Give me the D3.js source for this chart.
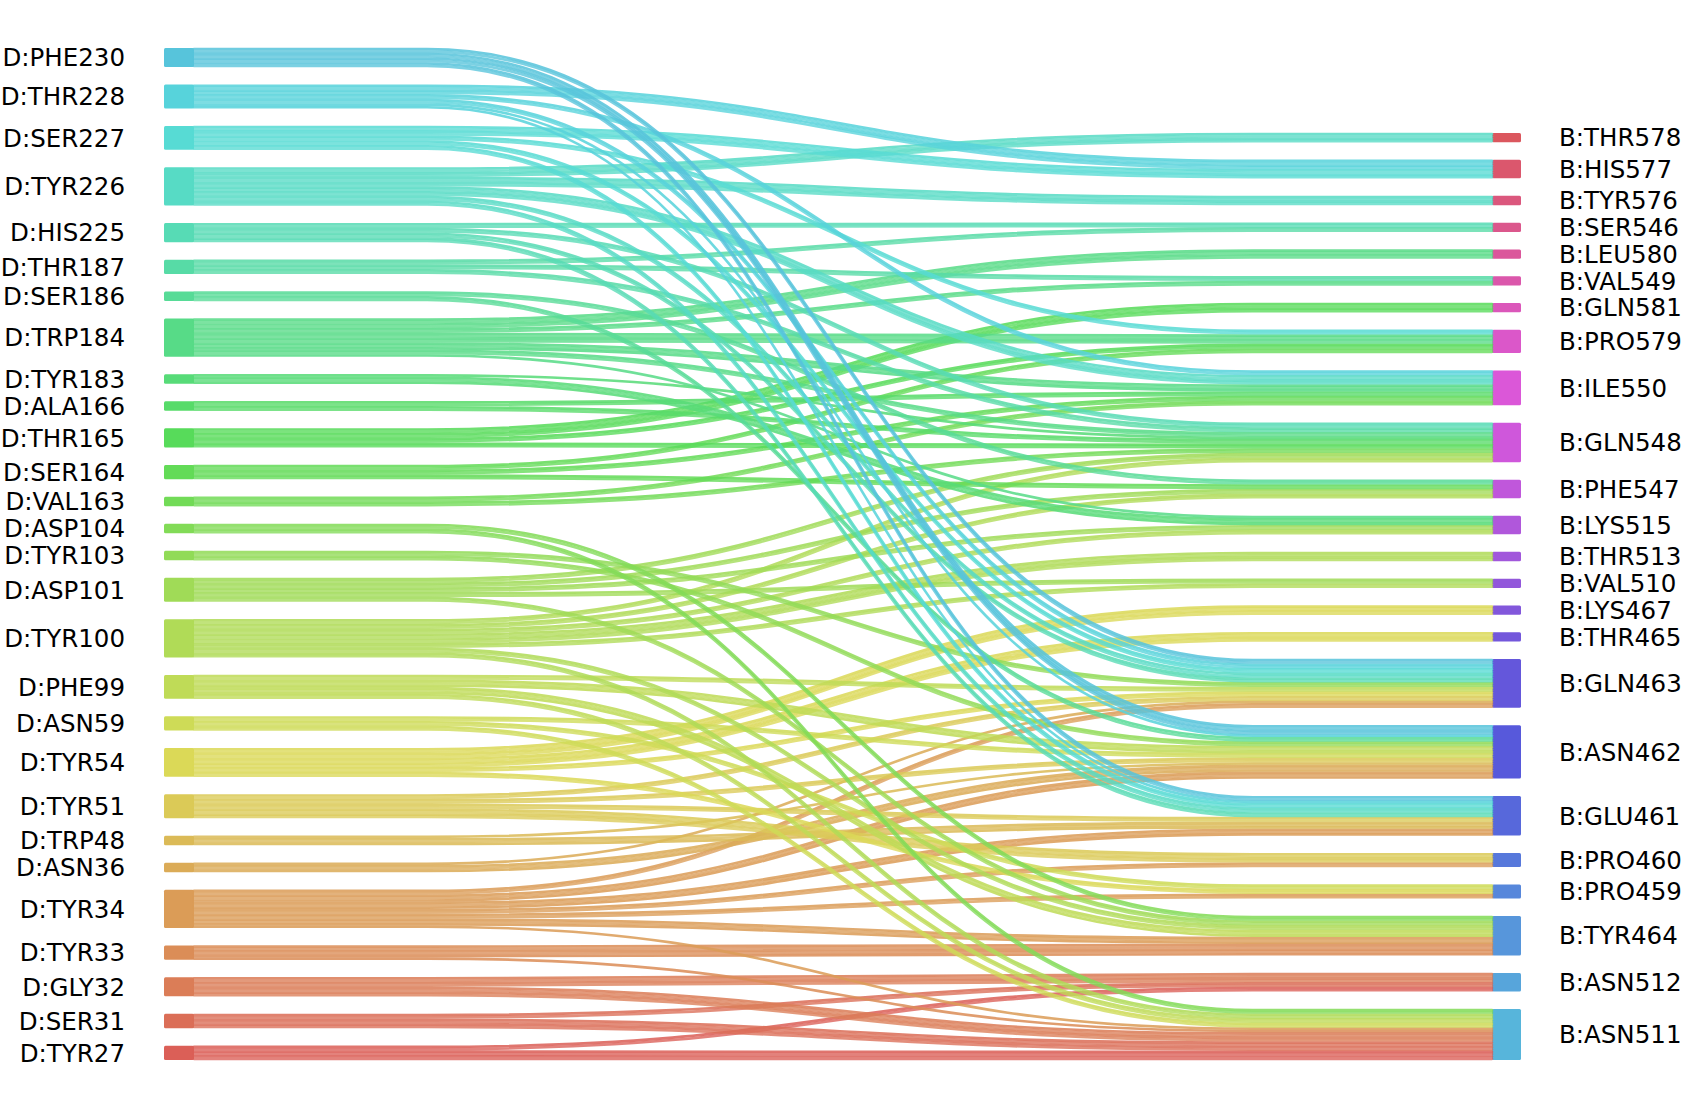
<!DOCTYPE html>
<html><head><meta charset="utf-8">
<script src="https://cdn.jsdelivr.net/npm/d3@7"></script>
<style>html,body{margin:0;padding:0;background:#fff;}svg{display:block;}</style>
</head><body>
<script>
// ---- data ----
const leftNodes = ["D:PHE230","D:THR228","D:SER227","D:TYR226","D:HIS225","D:THR187","D:SER186","D:TRP184","D:TYR183","D:ALA166","D:THR165","D:SER164","D:VAL163","D:ASP104","D:TYR103","D:ASP101","D:TYR100","D:PHE99","D:ASN59","D:TYR54","D:TYR51","D:TRP48","D:ASN36","D:TYR34","D:TYR33","D:GLY32","D:SER31","D:TYR27"];
const rightNodes = ["B:THR578","B:HIS577","B:TYR576","B:SER546","B:LEU580","B:VAL549","B:GLN581","B:PRO579","B:ILE550","B:GLN548","B:PHE547","B:LYS515","B:THR513","B:VAL510","B:LYS467","B:THR465","B:GLN463","B:ASN462","B:GLU461","B:PRO460","B:PRO459","B:TYR464","B:ASN512","B:ASN511"];
// [source, target, value]
const links = [
 ["D:PHE230","B:GLN463",1],["D:PHE230","B:ASN462",2],["D:PHE230","B:GLU461",1],
 ["D:THR228","B:HIS577",2],["D:THR228","B:ILE550",1],["D:THR228","B:GLN463",1],["D:THR228","B:ASN462",0.5],["D:THR228","B:GLU461",0.5],
 ["D:SER227","B:HIS577",2],["D:SER227","B:PRO579",1],["D:SER227","B:GLN463",1],["D:SER227","B:GLU461",1],
 ["D:TYR226","B:THR578",2],["D:TYR226","B:TYR576",2],["D:TYR226","B:ILE550",2],["D:TYR226","B:GLN463",1],["D:TYR226","B:GLU461",1],
 ["D:HIS225","B:SER546",1],["D:HIS225","B:GLN548",1],["D:HIS225","B:GLN463",1],["D:HIS225","B:GLU461",1],
 ["D:THR187","B:SER546",1],["D:THR187","B:VAL549",1],["D:THR187","B:GLN548",1],
 ["D:SER186","B:PHE547",1],["D:SER186","B:ASN462",1],
 ["D:TRP184","B:LEU580",2],["D:TRP184","B:VAL549",1],["D:TRP184","B:PRO579",2],["D:TRP184","B:ILE550",1.5],["D:TRP184","B:GLN548",1],["D:TRP184","B:LYS515",0.5],
 ["D:TYR183","B:GLN548",0.5],["D:TYR183","B:LYS515",1.5],
 ["D:ALA166","B:ILE550",1],["D:ALA166","B:GLN548",1],
 ["D:THR165","B:GLN581",2],["D:THR165","B:PRO579",1],["D:THR165","B:GLN548",1],
 ["D:SER164","B:PRO579",1],["D:SER164","B:ILE550",1],["D:SER164","B:PHE547",1],
 ["D:VAL163","B:ILE550",1],["D:VAL163","B:GLN548",1],
 ["D:ASP104","B:TYR464",1],["D:ASP104","B:ASN511",1],
 ["D:TYR103","B:GLN463",1],["D:TYR103","B:ASN462",1],
 ["D:ASP101","B:GLN548",1],["D:ASP101","B:PHE547",1],["D:ASP101","B:LYS515",1],["D:ASP101","B:VAL510",1],["D:ASP101","B:TYR464",1],
 ["D:TYR100","B:GLN548",1],["D:TYR100","B:PHE547",1],["D:TYR100","B:LYS515",1],["D:TYR100","B:THR513",2],["D:TYR100","B:VAL510",1],["D:TYR100","B:TYR464",1],["D:TYR100","B:ASN511",1],
 ["D:PHE99","B:GLN463",1],["D:PHE99","B:ASN462",1.5],["D:PHE99","B:TYR464",1.5],["D:PHE99","B:ASN511",1],
 ["D:ASN59","B:ASN462",1],["D:ASN59","B:PRO459",1],["D:ASN59","B:ASN511",1],
 ["D:TYR54","B:LYS467",2],["D:TYR54","B:THR465",2],["D:TYR54","B:GLN463",1],["D:TYR54","B:PRO459",1],
 ["D:TYR51","B:GLN463",1],["D:TYR51","B:ASN462",1],["D:TYR51","B:GLU461",1],["D:TYR51","B:PRO460",2],
 ["D:TRP48","B:ASN462",0.5],["D:TRP48","B:GLU461",1.5],
 ["D:ASN36","B:GLN463",0.5],["D:ASN36","B:ASN462",1.5],
 ["D:TYR34","B:GLN463",1],["D:TYR34","B:ASN462",1.5],["D:TYR34","B:GLU461",1.5],["D:TYR34","B:PRO460",1],["D:TYR34","B:PRO459",1],["D:TYR34","B:TYR464",1.5],["D:TYR34","B:ASN511",0.5],
 ["D:TYR33","B:TYR464",2.5],["D:TYR33","B:ASN511",0.5],
 ["D:GLY32","B:ASN512",2],["D:GLY32","B:ASN511",2],
 ["D:SER31","B:ASN512",1],["D:SER31","B:ASN511",2],
 ["D:TYR27","B:ASN512",1],["D:TYR27","B:ASN511",2]
];

// ---- layout ----
const W = 1683, H = 1108;
const svg = d3.select("body").append("svg").attr("width", W).attr("height", H);

const leftX0 = 164, leftX1 = 194, rightX0 = 1492, rightX1 = 1521;
const curveX0 = 427, curveX1 = 1253;
const topL = 48, topR = 133, bottom = 1060, gap = 17.5;

// palette (hls, like seaborn): index 0 = bottom-left ... 27 = top-left, 28 = bottom-right ... 51 = top-right
const nAll = leftNodes.length + rightNodes.length;
const order = leftNodes.slice().reverse().concat(rightNodes.slice().reverse());
const color = name => {
  const i = order.indexOf(name);
  return d3.hsl(((i / nAll + 0.01) % 1) * 360, 0.65, 0.6).formatHex();
};

const sumBy = (key, name) => d3.sum(links.filter(l => l[key] === name), l => l[2]);
const leftVal = leftNodes.map(n => sumBy(0, n));
const rightVal = rightNodes.map(n => sumBy(1, n));
const total = d3.sum(leftVal);
// each column is scaled to fill its own vertical extent
const yL = d3.scaleLinear().domain([0, total]).range([0, (bottom - topL) - gap * (leftNodes.length - 1)]);
const yR = d3.scaleLinear().domain([0, d3.sum(rightVal)]).range([0, (bottom - topR) - gap * (rightNodes.length - 1)]);

function place(names, vals, top, sc) {
  const m = new Map(); let y = top;
  names.forEach((n, i) => { const h = sc(vals[i]); m.set(n, {name: n, y0: y, y1: y + h, idx: i}); y += h + gap; });
  return m;
}
const L = place(leftNodes, leftVal, topL, yL);
const R = place(rightNodes, rightVal, topR, yR);

const linkObjs = links.map(l => ({s: L.get(l[0]), t: R.get(l[1]), v: l[2]}));
leftNodes.forEach(n => {
  const node = L.get(n); let off = 0;
  linkObjs.filter(o => o.s === node).sort((a, b) => a.t.idx - b.t.idx).forEach(o => { o.sOff = off; off += o.v; });
});
rightNodes.forEach(n => {
  const node = R.get(n); let off = 0;
  linkObjs.filter(o => o.t === node).sort((a, b) => a.s.idx - b.s.idx).forEach(o => { o.tOff = off; off += o.v; });
});
// half-unit strands
const strands = [];
const step = 0.5;
linkObjs.forEach(o => {
  const n = Math.round(o.v / step);
  for (let k = 0; k < n; k++) {
    strands.push({
      sy: o.s.y0 + yL(o.sOff + (k + 0.5) * step),
      ty: o.t.y0 + yR(o.tOff + (k + 0.5) * step),
      c: color(o.s.name), si: o.s.idx, k: k
    });
  }
});
strands.sort((a, b) => b.si - a.si);

const xm = (curveX0 + curveX1) / 2;
const pathOf = d => `M${leftX1},${d.sy}H${curveX0}C${xm},${d.sy} ${xm},${d.ty} ${curveX1},${d.ty}H${rightX0}`;
const sw = (yL(step) + yR(step)) / 2;

// nodes
const gNodes = svg.append("g");
[...L.values()].forEach(n => gNodes.append("rect").attr("x", leftX0).attr("y", n.y0)
  .attr("width", leftX1 - leftX0).attr("height", n.y1 - n.y0).attr("rx", 1.5).attr("fill", color(n.name)));
[...R.values()].forEach(n => gNodes.append("rect").attr("x", rightX0).attr("y", n.y0)
  .attr("width", rightX1 - rightX0).attr("height", n.y1 - n.y0).attr("rx", 1.5).attr("fill", color(n.name)));

const gLinks = svg.append("g").attr("fill", "none");
gLinks.selectAll("path").data(strands).join("path")
  .attr("d", pathOf)
  .attr("stroke", d => d.c).attr("stroke-opacity", d => d.k % 2 ? 0.78 : 0.86)
  .attr("stroke-width", sw + 0.3).attr("stroke-linecap", "round");

// labels
const gText = svg.append("g").attr("font-family", "DejaVu Sans, sans-serif").attr("font-size", 24.5).attr("fill", "#000");
[...L.values()].forEach(n => gText.append("text").attr("x", 125).attr("y", (n.y0 + n.y1) / 2)
  .attr("dy", "0.36em").attr("text-anchor", "end").text(n.name));
[...R.values()].forEach(n => gText.append("text").attr("x", 1559).attr("y", (n.y0 + n.y1) / 2)
  .attr("dy", "0.36em").attr("text-anchor", "start").text(n.name));
</script>
</body></html>
